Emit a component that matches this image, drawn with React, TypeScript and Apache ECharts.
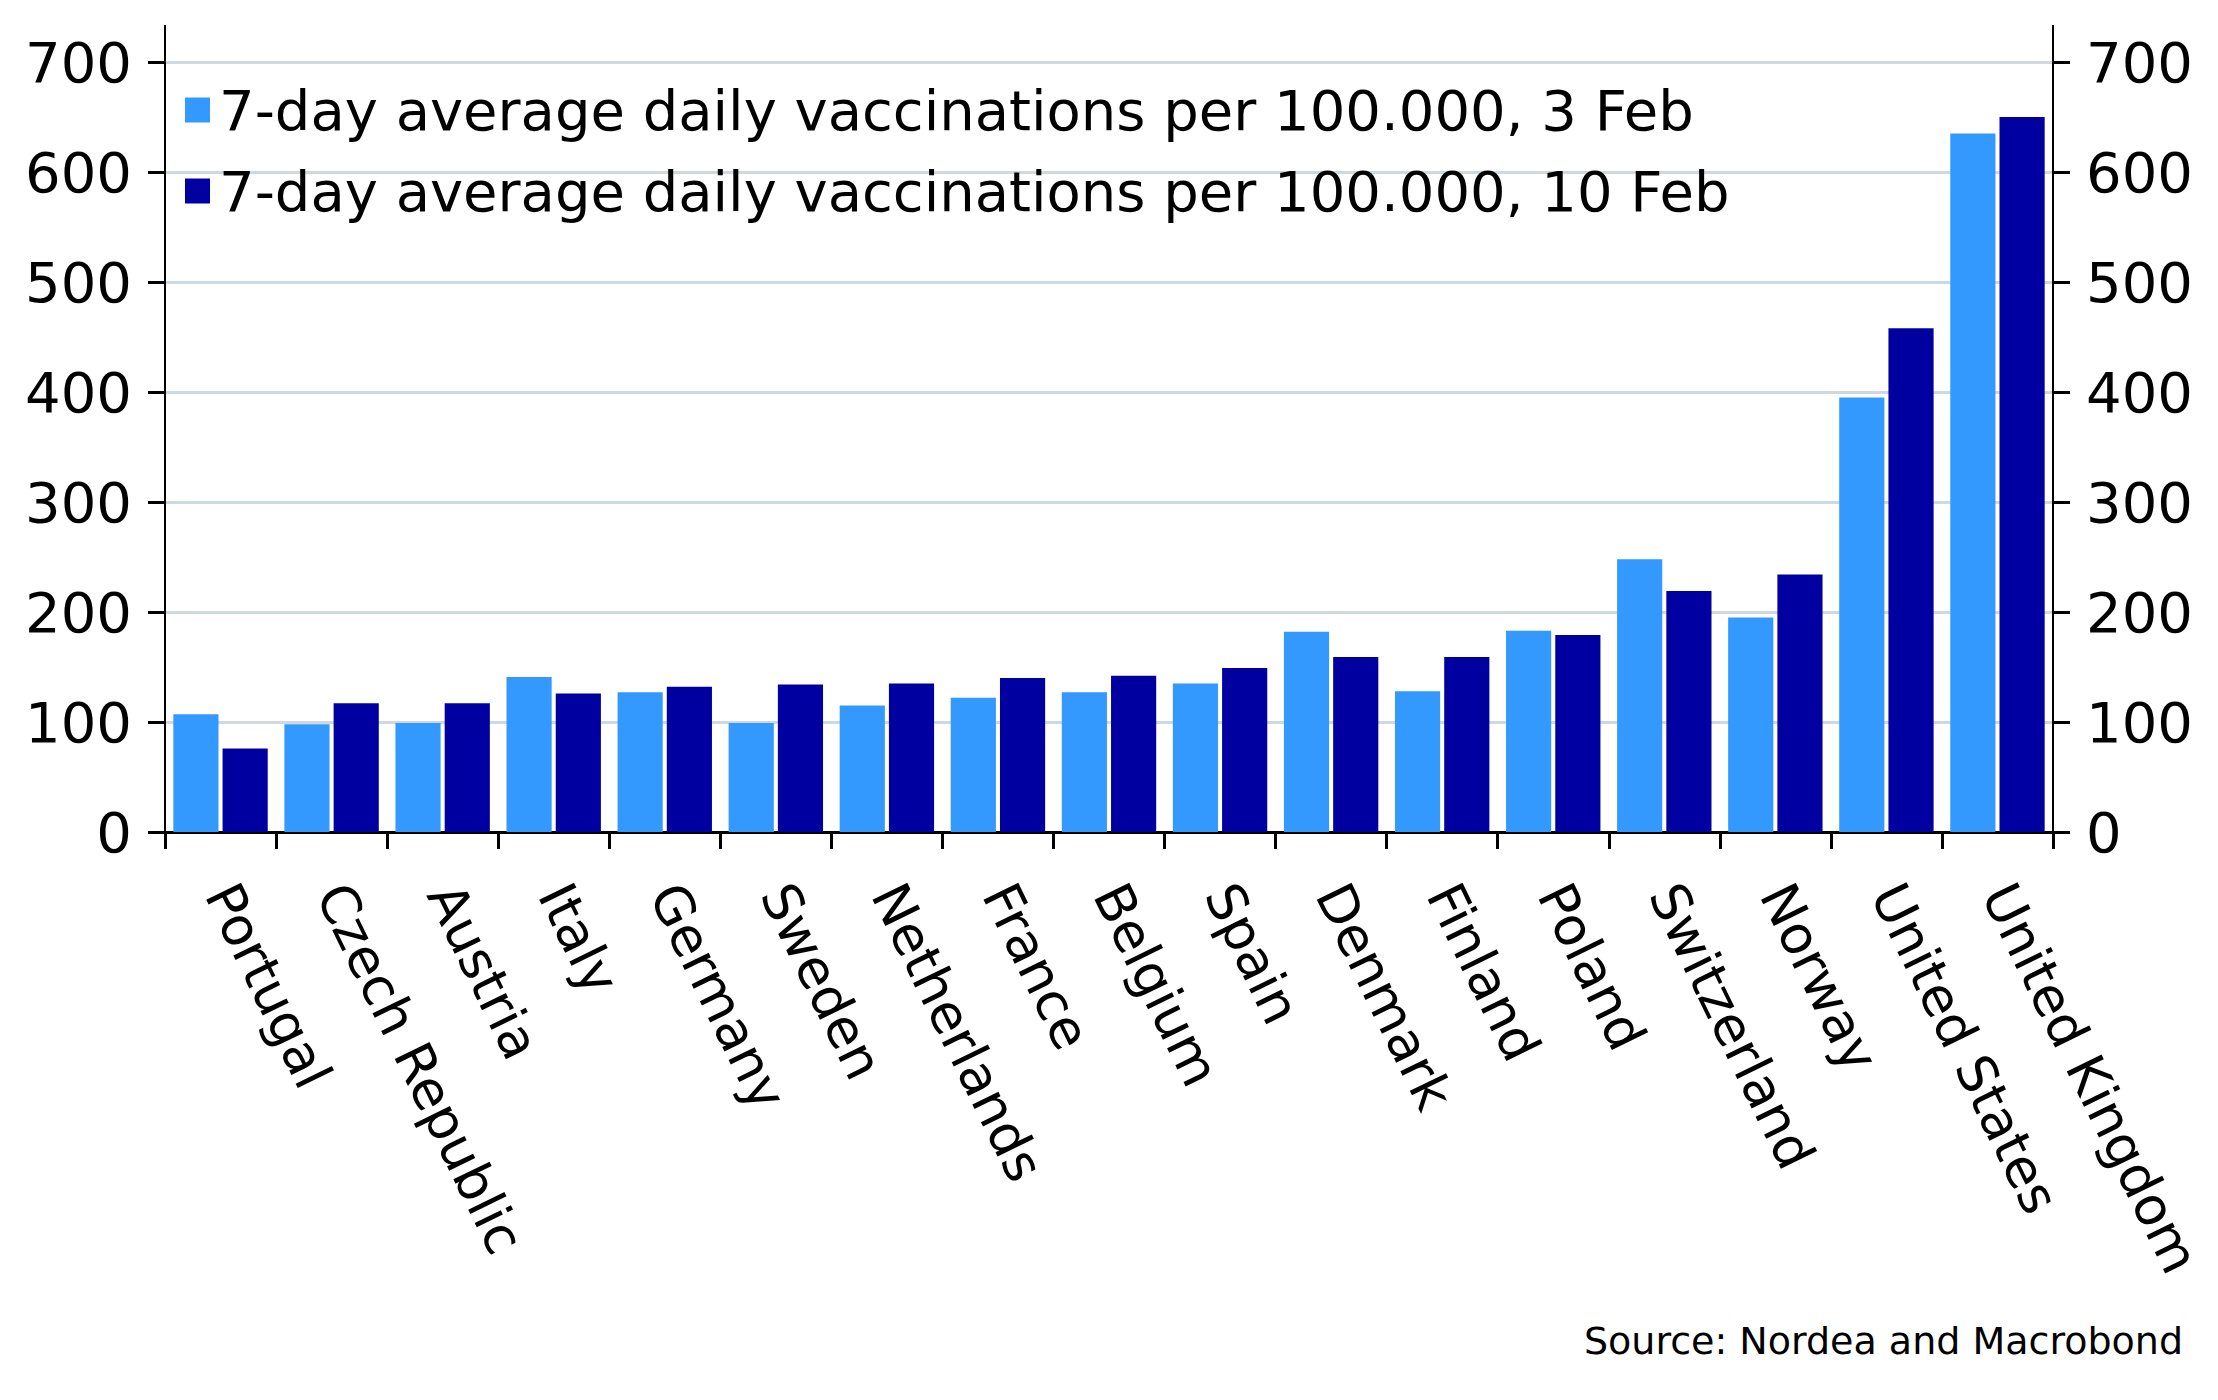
import React, { useEffect, useRef } from "react";
import * as echarts from "echarts";

const categories = [
  "Portugal",
  "Czech Republic",
  "Austria",
  "Italy",
  "Germany",
  "Sweden",
  "Netherlands",
  "France",
  "Belgium",
  "Spain",
  "Denmark",
  "Finland",
  "Poland",
  "Switzerland",
  "Norway",
  "United States",
  "United Kingdom",
];

const seriesNames = [
  "7-day average daily vaccinations per 100.000, 3 Feb",
  "7-day average daily vaccinations per 100.000, 10 Feb",
];

const feb3 = [107, 98, 99, 141, 127, 99, 115, 122, 127, 135, 182, 128, 183, 248, 195, 395, 635];
const feb10 = [76, 117, 117, 126, 132, 134, 135, 140, 142, 149, 159, 159, 179, 219, 234, 458, 650];

const yMin = 0;
const yMax = 700;
const yStep = 100;

const sourceText = "Source: Nordea and Macrobond";

const FONT = '"DejaVu Sans", Verdana, sans-serif';
const LIGHT = "#3399FF";
const DARK = "#0000A0";

export default function App() {
  const ref = useRef<HTMLDivElement>(null);

  useEffect(() => {
    document.body.style.margin = "0";
    if (!ref.current) return;
    const chart = echarts.init(ref.current, undefined, { renderer: "svg" });

    const yAxisCommon = {
      type: "value",
      min: yMin,
      max: yMax,
      interval: yStep,
      axisLine: { show: true, lineStyle: { color: "#000", width: 2 } },
      axisTick: { show: true, length: 17, lineStyle: { color: "#000", width: 3 } },
      axisLabel: { fontSize: 56, fontFamily: FONT, color: "#000", margin: 33 },
    };

    chart.setOption({
      animation: false,
      backgroundColor: "#fff",
      grid: { left: 165, right: 165, top: 62, bottom: 568, containLabel: false },
      legend: {
        orient: "vertical",
        left: 180,
        top: 77,
        itemWidth: 25,
        itemHeight: 25,
        itemGap: 25,
        icon: "rect",
        data: seriesNames,
        textStyle: { fontSize: 56, fontFamily: FONT, color: "#000", padding: [0, 0, 0, 4] },
      },
      xAxis: {
        type: "category",
        data: categories,
        axisLine: { show: true, lineStyle: { color: "#000", width: 3 } },
        axisTick: { show: true, length: 17, lineStyle: { color: "#000", width: 3 } },
        axisLabel: {
          rotate: -64,
          margin: 55,
          interval: 0,
          fontSize: 53,
          fontFamily: FONT,
          color: "#000",
        },
      },
      yAxis: [
        {
          ...yAxisCommon,
          position: "left",
          splitLine: { show: true, lineStyle: { color: "#CFD8DF", width: 3 } },
        },
        {
          ...yAxisCommon,
          position: "right",
          splitLine: { show: false },
        },
      ],
      series: [
        {
          name: seriesNames[0],
          type: "bar",
          data: feb3,
          yAxisIndex: 0,
          barGap: "9%",
          barCategoryGap: "15%",
          itemStyle: { color: LIGHT },
        },
        {
          name: seriesNames[1],
          type: "bar",
          data: feb10,
          yAxisIndex: 0,
          barGap: "9%",
          barCategoryGap: "15%",
          itemStyle: { color: DARK },
        },
      ],
      graphic: [
        { type: "line", shape: { x1: 165, y1: 25, x2: 165, y2: 63 }, style: { stroke: "#000", lineWidth: 2 } },
        { type: "line", shape: { x1: 2053, y1: 25, x2: 2053, y2: 63 }, style: { stroke: "#000", lineWidth: 2 } },
        {
          type: "text",
          right: 35,
          top: 1322,
          style: { text: sourceText, font: `38px ${FONT}`, fill: "#000" },
        },
      ],
    });

    return () => chart.dispose();
  }, []);

  return <div ref={ref} style={{ width: 2218, height: 1400 }} />;
}
